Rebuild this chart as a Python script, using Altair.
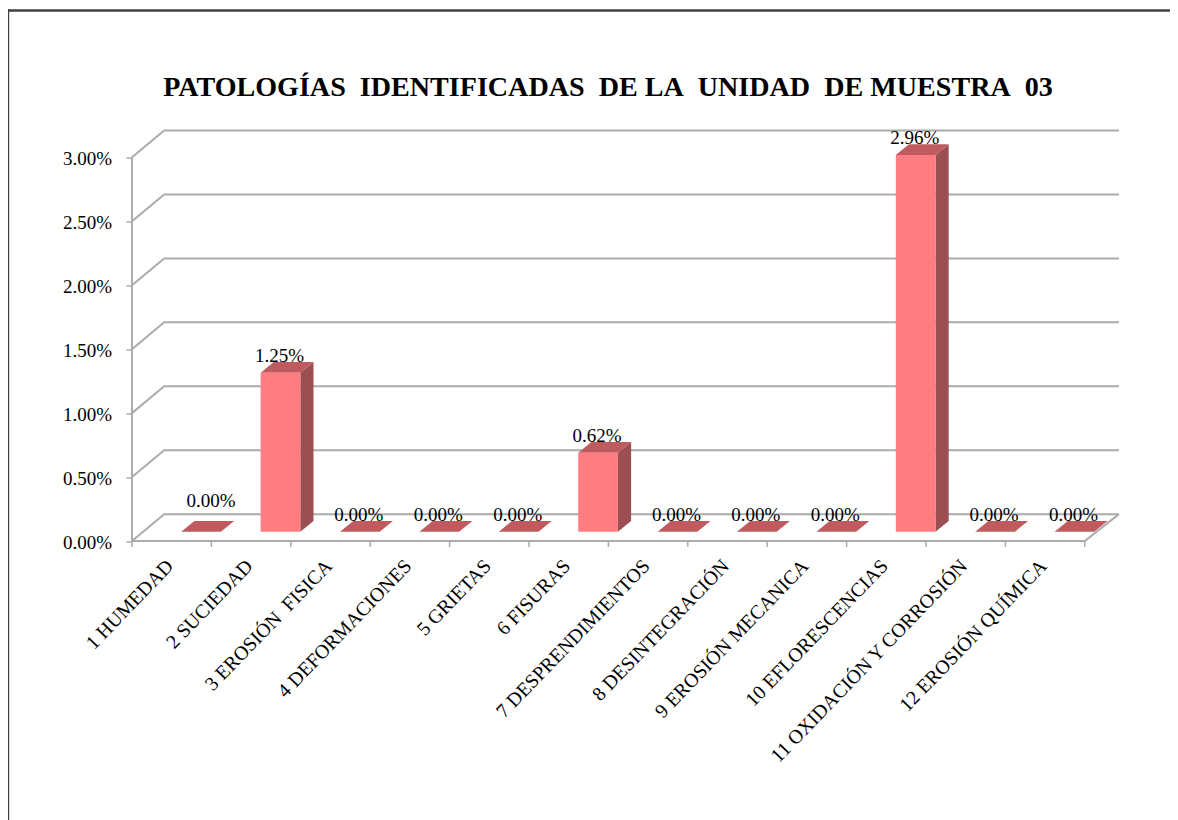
import json
import altair as alt
import pandas as pd

NB = "\u00a0"
TITLE = f"PATOLOGÍAS{NB} IDENTIFICADAS{NB} DE LA{NB} UNIDAD{NB} DE MUESTRA{NB} 03"
categories = [
    "1 HUMEDAD", "2 SUCIEDAD", f"3 EROSIÓN{NB} FISICA", "4 DEFORMACIONES", "5 GRIETAS",
    "6 FISURAS", "7 DESPRENDIMIENTOS", "8 DESINTEGRACIÓN", "9 EROSIÓN MECANICA",
    "10 EFLORESCENCIAS", "11 OXIDACIÓN Y CORROSIÓN", "12 EROSIÓN QUÍMICA",
]
values = [0.0, 0.0125, 0.0, 0.0, 0.0, 0.0062, 0.0, 0.0, 0.0, 0.0296, 0.0, 0.0]
y_ticks = [0.0, 0.005, 0.01, 0.015, 0.02, 0.025, 0.03]

FONT = "Liberation Serif"
GRID = "#ABABAB"
FRONT, TOP, SIDE = "#FF7C80", "#BF5B5E", "#9C4F52"

# 3-D projection constants, in data units
X_MAX, Y_MAX = 12.431, 0.0321
WALL_DX, WALL_END, WALL_DY = 0.405, 12.43, 0.00210
BAR_LEFT, BAR_W, BAR_DX, BAR_DY, FLOOR, BAR_SCALE = 0.62, 0.5, 0.166, 0.000837, 0.000727, 0.995

x_scale = alt.Scale(domain=[0, X_MAX], nice=False, zero=False)
y_scale = alt.Scale(domain=[0, Y_MAX], nice=False, zero=False)

# wall and floor lines
wall = []
for t in y_ticks:
    for k, (px, py) in enumerate([(0, t), (WALL_DX, t + WALL_DY), (WALL_END, t + WALL_DY)]):
        wall.append({"g": f"w{t}", "k": k, "x": px, "y": py})
n = len(categories)
for k, (px, py) in enumerate([(0, 0), (n, 0), (WALL_END, WALL_DY)]):
    wall.append({"g": "floor", "k": k, "x": px, "y": py})
for k, (px, py) in enumerate([(0, 0), (0, y_ticks[-1])]):
    wall.append({"g": "left", "k": k, "x": px, "y": py})
wall_df = pd.DataFrame(wall)

# faces of each bar
front, side, top = [], [], []
for i, v in enumerate(values):
    L, R = i + BAR_LEFT, i + BAR_LEFT + BAR_W
    b, t = FLOOR, FLOOR + v * BAR_SCALE
    front.append({"x": L, "x2": R, "y": b, "y2": t})
    side += [
        {"g": i, "x": R, "y": b, "y2": t},
        {"g": i, "x": R + BAR_DX, "y": b + BAR_DY, "y2": t + BAR_DY},
    ]
    top += [
        {"g": i, "x": L, "y": t, "y2": t},
        {"g": i, "x": L + BAR_DX, "y": t, "y2": t + BAR_DY},
        {"g": i, "x": R, "y": t, "y2": t + BAR_DY},
        {"g": i, "x": R + BAR_DX, "y": t + BAR_DY, "y2": t + BAR_DY},
    ]

ax_x = alt.X(
    "x:Q", scale=x_scale, title=None,
    axis=alt.Axis(
        values=[i + 0.5 for i in range(n)],
        labelExpr=f"{json.dumps(categories, ensure_ascii=False)}[floor(datum.value)]",
        labelAngle=-46, labelAlign="right", labelBaseline="middle", labelPadding=21.5, labelOffset=-2,
        labelFont=FONT, labelFontSize=19.8, labelColor="#000000", labelOverlap=False,
        labelFlush=False, labelBound=False, ticks=False, grid=False, domain=False, labelLimit=0,
    ),
)
ax_y = alt.Y(
    "y:Q", scale=y_scale, title=None,
    axis=alt.Axis(
        values=y_ticks, format=".2%", grid=False, domain=False, tickColor=GRID, tickSize=6,
        tickWidth=1.5, labelFont=FONT, labelFontSize=19, labelColor="#000000", labelPadding=14.5,
        labelOffset=1,
    ),
)

lines = alt.Chart(wall_df).mark_line(color=GRID, strokeWidth=2).encode(
    x=ax_x, y=ax_y, detail="g:N", order="k:Q"
)
x_ticks = alt.Chart(pd.DataFrame({"x": list(range(n + 1))})).mark_rule(
    color=GRID, strokeWidth=1.5
).encode(x=alt.X("x:Q", scale=x_scale), y=alt.datum(0, scale=y_scale), y2=alt.datum(-0.00047))

front_m = alt.Chart(pd.DataFrame(front)).mark_rect(color=FRONT).encode(
    x=alt.X("x:Q", scale=x_scale), x2="x2:Q", y=alt.Y("y:Q", scale=y_scale), y2="y2:Q"
)
side_m = alt.Chart(pd.DataFrame(side)).mark_area(color=SIDE).encode(
    x=alt.X("x:Q", scale=x_scale), y=alt.Y("y:Q", scale=y_scale), y2="y2:Q", detail="g:N"
)
top_m = alt.Chart(pd.DataFrame(top)).mark_area(color=TOP).encode(
    x=alt.X("x:Q", scale=x_scale), y=alt.Y("y:Q", scale=y_scale), y2="y2:Q", detail="g:N"
)

lab = pd.DataFrame({
    "x": [i + BAR_LEFT + BAR_W / 2 for i in range(n)],
    "y": [FLOOR + v * BAR_SCALE for v in values],
    "v": values,
})
lab_style = dict(font=FONT, fontSize=19, color="#000000", baseline="alphabetic", align="center")
enc = dict(x=alt.X("x:Q", scale=x_scale), y=alt.Y("y:Q", scale=y_scale), text=alt.Text("v:Q", format=".2%"))
labels = alt.Chart(lab.iloc[1:]).mark_text(dx=-1, dy=-11, **lab_style).encode(**enc)
label_first = alt.Chart(lab.iloc[:1]).mark_text(dx=10, dy=-25, **lab_style).encode(**enc)

# chart frame: only the left and top edges fall inside the picture
frame_left = alt.Chart(pd.DataFrame({"a": [0]})).mark_rule(color="#404040", strokeWidth=2.4).encode(
    x=alt.value(-124), y=alt.value(-121.5), y2=alt.value(690)
)
frame_top = alt.Chart(pd.DataFrame({"a": [0]})).mark_rule(color="#404040", strokeWidth=2.4).encode(
    x=alt.value(-124), x2=alt.value(1046), y=alt.value(-120)
)

chart = alt.layer(
    frame_left, frame_top, lines, x_ticks, side_m, top_m, front_m, labels, label_first
).properties(
    width=987, height=410.5,
    autosize=alt.AutoSizeParams(type="none"),
    padding={"left": 124, "top": 122.5, "right": 51, "bottom": 279},
    title=alt.TitleParams(
        TITLE, font=FONT, fontSize=28.1, fontWeight="bold", color="#000000",
        anchor="middle", dx=-17.5, offset=-116.3, baseline="alphabetic",
    ),
).configure_view(stroke=None)

chart.save("out.html", embed_options={"renderer": "svg", "actions": False})
